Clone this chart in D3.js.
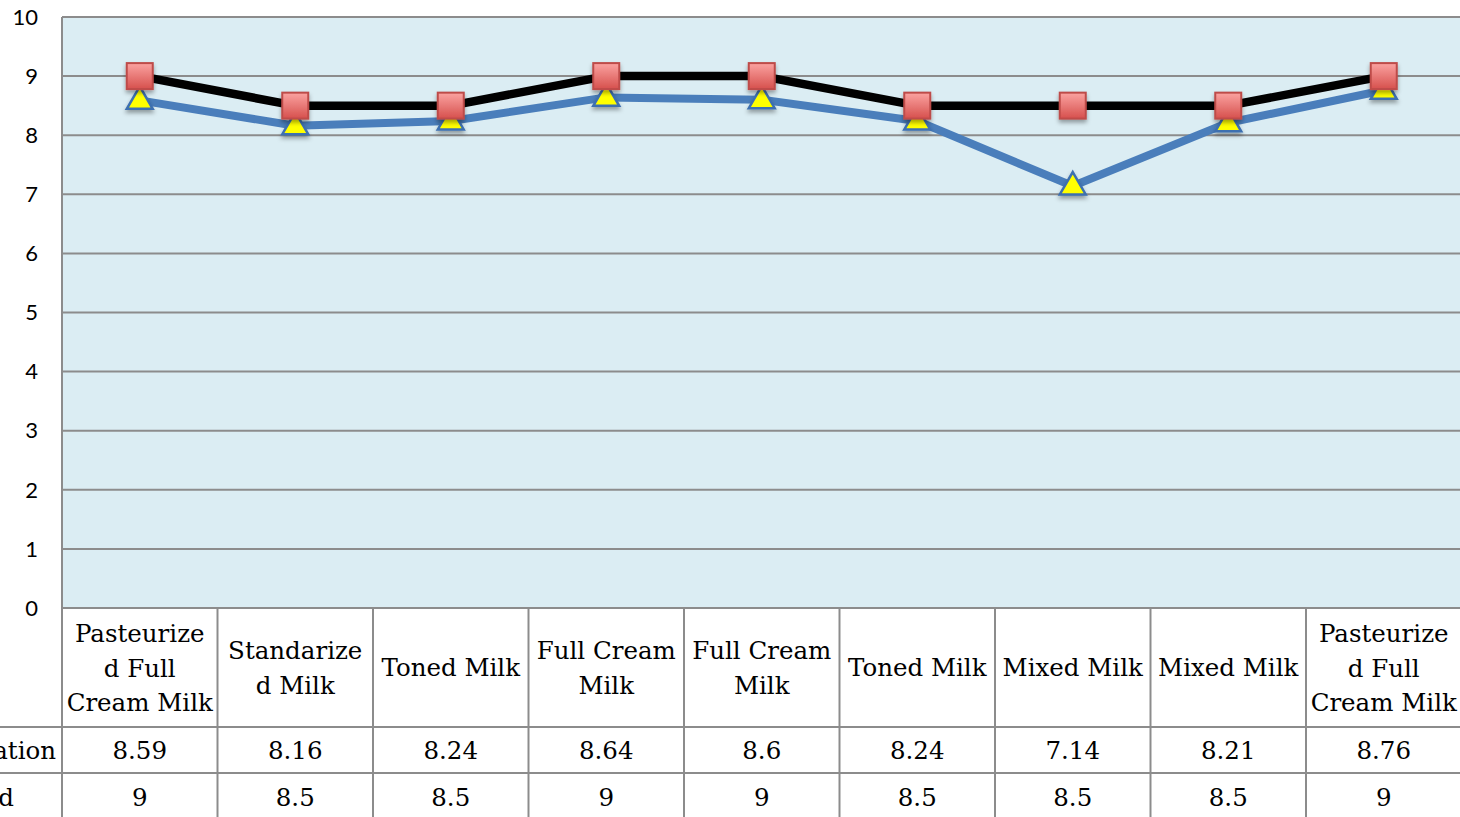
<!DOCTYPE html>
<html>
<head>
<meta charset="utf-8">
<script src="https://cdn.jsdelivr.net/npm/d3@7"></script>
<style>
  body { margin: 0; background: #fff; overflow: hidden; }
  .ytick { font: 22px Lato, "Open Sans", sans-serif; fill: #000; }
  .cell { font: 24.5px "DejaVu Serif", "Liberation Serif", serif; fill: #000; }
</style>
</head>
<body>
<script>
// Data
var categories = ["Pasteurized Full Cream Milk", "Standarized Milk", "Toned Milk",
  "Full Cream Milk", "Full Cream Milk", "Toned Milk", "Mixed Milk", "Mixed Milk",
  "Pasteurized Full Cream Milk"];
// how the labels wrap inside the table cells
var categoryLines = [
  ["Pasteurize", "d Full", "Cream Milk"],
  ["Standarize", "d Milk"],
  ["Toned Milk"],
  ["Full Cream", "Milk"],
  ["Full Cream", "Milk"],
  ["Toned Milk"],
  ["Mixed Milk"],
  ["Mixed Milk"],
  ["Pasteurize", "d Full", "Cream Milk"]
];
var seriesNames = ["Evaluation", "Standard"];
var evaluation = [8.59, 8.16, 8.24, 8.64, 8.6, 8.24, 7.14, 8.21, 8.76];
var standard = [9, 8.5, 8.5, 9, 9, 8.5, 8.5, 8.5, 9];
var yTicks = [0, 1, 2, 3, 4, 5, 6, 7, 8, 9, 10];

// Size
var w = 1460;
var h = 817;
var plotLeft = 62, plotTop = 17, plotBottom = 608;
var plotRight = 1461.5;

var svg = d3.select("body").append("svg")
    .attr("width", w)
    .attr("height", h);

var defs = svg.append("defs");
var grad = defs.append("linearGradient")
    .attr("id", "sq").attr("x1", 0).attr("y1", 0).attr("x2", 0).attr("y2", 1);
grad.append("stop").attr("offset", "0%").attr("stop-color", "#fba3a1");
grad.append("stop").attr("offset", "100%").attr("stop-color", "#d6504d");
var sh = defs.append("filter").attr("id", "shadow")
    .attr("x", "-50%").attr("y", "-50%").attr("width", "200%").attr("height", "200%");
sh.append("feDropShadow").attr("dx", 0).attr("dy", 3).attr("stdDeviation", 2)
    .attr("flood-color", "#000").attr("flood-opacity", 0.35);

// Scales
var xScale = d3.scaleBand()
    .domain(d3.range(categories.length))
    .range([plotLeft, plotRight]);

var yScale = d3.scaleLinear()
    .domain([0, 10])
    .range([plotBottom, plotTop]);

function cx(i) { return xScale(i) + xScale.bandwidth() / 2; }

// Plot background
svg.append("rect")
    .attr("x", plotLeft).attr("y", plotTop)
    .attr("width", plotRight - plotLeft).attr("height", plotBottom - plotTop)
    .attr("fill", "#dbedf3");

// Grid lines
svg.append("g").selectAll("line")
    .data(yTicks)
    .enter().append("line")
    .attr("x1", plotLeft).attr("x2", plotRight)
    .attr("y1", function(d) { return yScale(d); })
    .attr("y2", function(d) { return yScale(d); })
    .attr("stroke", "#8c8c8c")
    .attr("stroke-width", 2);

svg.append("line")
    .attr("x1", plotLeft).attr("x2", plotLeft)
    .attr("y1", plotTop).attr("y2", plotBottom)
    .attr("stroke", "#8c8c8c").attr("stroke-width", 2);

// Y axis labels
svg.append("g").selectAll("text")
    .data(yTicks)
    .enter().append("text")
    .attr("class", "ytick")
    .attr("x", 38)
    .attr("y", function(d) { return yScale(d); })
    .attr("dy", "0.35em")
    .attr("text-anchor", "end")
    .text(function(d) { return d; });

// Lines
var line = d3.line()
    .x(function(d, i) { return cx(i); })
    .y(function(d) { return yScale(d); });

svg.append("path")
    .attr("d", line(standard))
    .attr("fill", "none")
    .attr("stroke", "#000")
    .attr("stroke-width", 8.5)
    .attr("stroke-linejoin", "round");

svg.append("path")
    .attr("d", line(evaluation))
    .attr("fill", "none")
    .attr("stroke", "#4a7ebb")
    .attr("stroke-width", 8)
    .attr("stroke-linejoin", "round");

// Triangle markers (evaluation)
var tri = d3.symbol().type(d3.symbolTriangle).size(290);
svg.append("g").selectAll("path")
    .data(evaluation)
    .enter().append("path")
    .attr("d", tri)
    .attr("transform", function(d, i) {
      return "translate(" + cx(i) + "," + (yScale(d) + 1) + ")";
    })
    .attr("fill", "#ffff00")
    .attr("stroke", "#3e70b0")
    .attr("stroke-width", 2.5)
    .attr("filter", "url(#shadow)");

// Square markers (standard)
svg.append("g").selectAll("rect")
    .data(standard)
    .enter().append("rect")
    .attr("x", function(d, i) { return cx(i) - 13; })
    .attr("y", function(d) { return yScale(d) - 13; })
    .attr("width", 26).attr("height", 26)
    .attr("fill", "url(#sq)")
    .attr("stroke", "#be4b48")
    .attr("stroke-width", 2)
    .attr("filter", "url(#shadow)");

// Data table
var rowTop = [608, 727, 773];
var gridColor = "#8c8c8c";
var table = svg.append("g");

// horizontal rules
table.selectAll(".hr")
    .data(rowTop)
    .enter().append("line")
    .attr("x1", function(d, i) { return i == 0 ? plotLeft : 0; })
    .attr("x2", plotRight)
    .attr("y1", function(d) { return d; })
    .attr("y2", function(d) { return d; })
    .attr("stroke", gridColor).attr("stroke-width", 2);

// vertical rules
table.selectAll(".vr")
    .data(d3.range(categories.length + 1))
    .enter().append("line")
    .attr("x1", function(i) { return i < categories.length ? xScale(i) : plotRight; })
    .attr("x2", function(i) { return i < categories.length ? xScale(i) : plotRight; })
    .attr("y1", 608).attr("y2", h)
    .attr("stroke", gridColor).attr("stroke-width", 2);

// category labels
var catCells = table.selectAll(".cat")
    .data(categoryLines)
    .enter().append("text")
    .attr("class", "cell")
    .attr("text-anchor", "middle")
    .attr("y", function(d) { return 676 - (d.length - 1) * 17; })
    .attr("dy", "0.35em");
catCells.selectAll("tspan")
    .data(function(d, i) { return d.map(function(t) { return {t: t, i: i}; }); })
    .enter().append("tspan")
    .attr("x", function(d) { return cx(d.i); })
    .attr("dy", function(d, j) { return j == 0 ? 0 : 34.5; })
    .text(function(d) { return d.t; });

// value rows
var rowMid = [750, 797];
var rowLabelX = [56, 14];
[evaluation, standard].forEach(function(vals, r) {
  table.append("text")
      .attr("class", "cell")
      .attr("x", rowLabelX[r])
      .attr("y", rowMid[r])
      .attr("dy", "0.35em")
      .attr("text-anchor", "end")
      .text(seriesNames[r]);
  table.selectAll(".v" + r)
      .data(vals)
      .enter().append("text")
      .attr("class", "cell")
      .attr("x", function(d, i) { return cx(i); })
      .attr("y", rowMid[r])
      .attr("dy", "0.35em")
      .attr("text-anchor", "middle")
      .text(function(d) { return d; });
});
</script>
</body>
</html>
